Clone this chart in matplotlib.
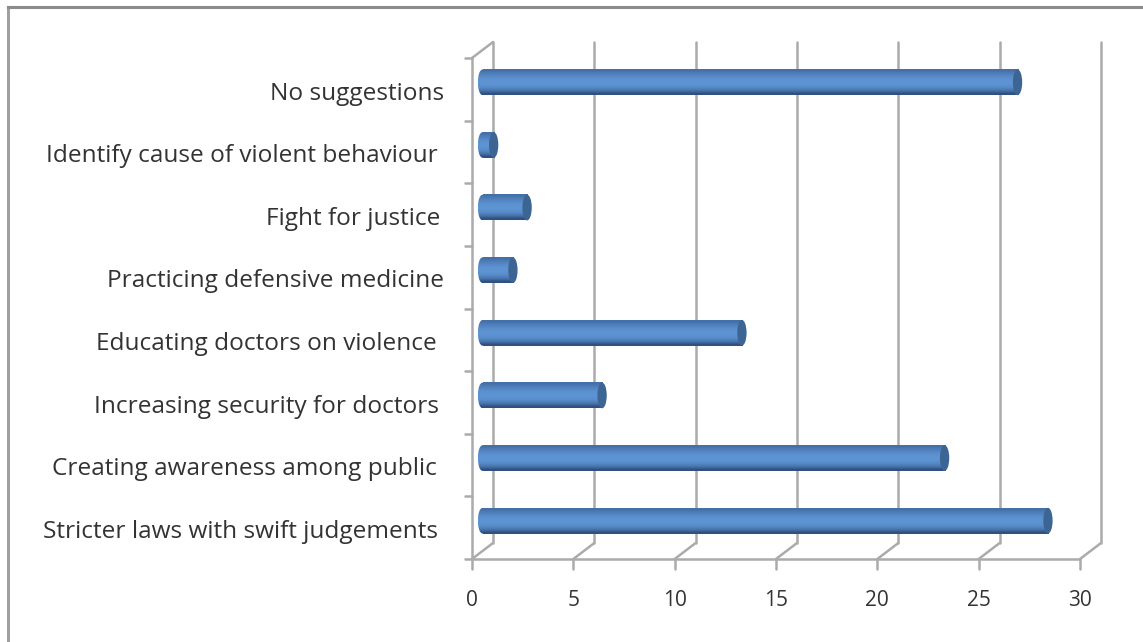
import numpy as np
import matplotlib
matplotlib.use('Agg')
import matplotlib.pyplot as plt
from matplotlib.patches import Ellipse
from matplotlib.lines import Line2D

categories = ['Stricter laws with swift judgements', 'Creating awareness among public',
              'Increasing security for doctors', 'Educating doctors on violence',
              'Practicing defensive medicine', 'Fight for justice',
              'Identify cause of violent behaviour', 'No suggestions']
values = [27.9, 22.8, 5.9, 12.8, 1.5, 2.2, 0.55, 26.4]
x_ticks = [0, 5, 10, 15, 20, 25, 30]

W, H = 1143, 642
GRID = '#ababab'
TEXT = '#333333'

plt.rcParams['font.family'] = ['Open Sans', 'DejaVu Sans']

fig = plt.figure(figsize=(W / 100, H / 100), dpi=100)

# only top and left edges of the outer frame are in the picture
fig.add_artist(Line2D([7.5 / W, 7.5 / W], [0, 1 - 6.5 / H], color='#a0a0a0', lw=2.2))
fig.add_artist(Line2D([7.5 / W, 1], [1 - 6.5 / H, 1 - 6.5 / H], color='#8c8c8c', lw=2.2))

# axes = the front plane of the fake 3d box
left, right, top, bottom = 472, 1080, 58, 559
ax = fig.add_axes([left / W, 1 - bottom / H, (right - left) / W, (bottom - top) / H])
ax.axis('off')

# depth of the box, in data units
dx = 21 / (right - left) * 30
dy = 16 / (bottom - top) * len(categories)
kw = dict(color=GRID, lw=1.8, clip_on=False, solid_capstyle='round')

ax.plot([0, 0], [0, len(categories)], **kw)
ax.plot([0, 30], [0, 0], **kw)
for x in x_ticks:
    ax.plot([x + dx, x + dx], [dy, len(categories) + dy], **kw)
    ax.plot([x, x + dx], [0, dy], **kw)
    ax.plot([x, x], [0, -0.16], **kw)
    ax.text(x, -0.66, str(x), ha='center', va='center', fontsize=15, color=TEXT)
ax.plot([0, dx], [len(categories), len(categories) + dy], **kw)
for i in range(len(categories) + 1):
    ax.plot([-0.35, 0], [i, i], **kw)

# cylinders sit half way into the box
shade = np.array([[0.27, 0.44, 0.66], [0.31, 0.50, 0.74], [0.35, 0.55, 0.79], [0.37, 0.58, 0.83],
                  [0.37, 0.58, 0.83], [0.34, 0.55, 0.79], [0.29, 0.47, 0.69], [0.19, 0.32, 0.50]])
bar_h = 0.41
cap_w = 0.46
y_shift = -0.016
for i, v in enumerate(values):
    y0 = i + 0.5 + dy / 2 - bar_h / 2 + y_shift
    x0 = dx / 2
    ax.imshow(shade[:, None, :], extent=[x0, x0 + v, y0, y0 + bar_h], aspect='auto',
              interpolation='bilinear', origin='upper', zorder=3)
    # rounded left end carries the same shading as the body
    end = ax.imshow(shade[:, None, :], extent=[x0 - cap_w / 2, x0 + 0.02, y0, y0 + bar_h], aspect='auto',
                    interpolation='bilinear', origin='upper', zorder=3)
    end.set_clip_path(Ellipse((x0, y0 + bar_h / 2), cap_w, bar_h, transform=ax.transData))
    ax.add_patch(Ellipse((x0 + v, y0 + bar_h / 2), cap_w, bar_h, fc='#3c6594', ec='none', zorder=4))
ax.set_xlim(0, 30)
ax.set_ylim(0, len(categories))

# label ends are not quite aligned in the original
label_right = [-1.68, -1.73, -1.63, -1.73, -1.38, -1.58, -1.68, -1.38]
for i, name in enumerate(categories):
    ax.text(label_right[i], i + 0.5 + dy / 2 - 0.195, name, ha='right', va='center',
            fontsize=17.6, color=TEXT)

fig.savefig('out.png', dpi=100)
